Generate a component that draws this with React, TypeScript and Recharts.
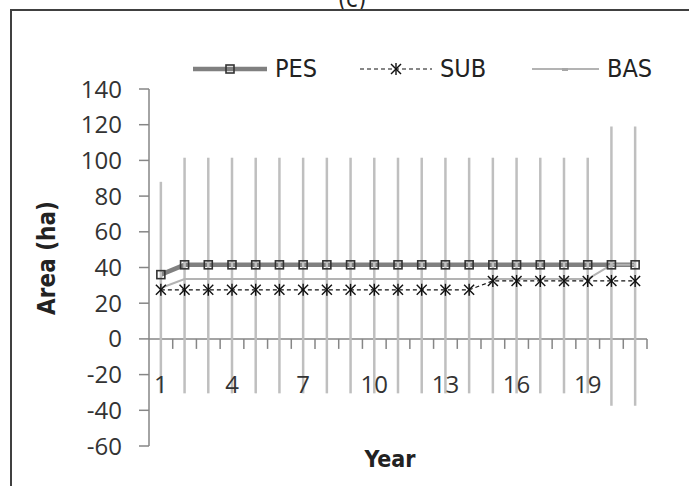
import React from 'react';
import { LineChart, Line, XAxis, YAxis, ErrorBar, ReferenceLine, Legend } from 'recharts';

const years = ['1', '2', '3', '4', '5', '6', '7', '8', '9', '10', '11', '12', '13', '14', '15', '16', '17', '18', '19', '20', '21'];
const pes = [36, 41.5, 41.5, 41.5, 41.5, 41.5, 41.5, 41.5, 41.5, 41.5, 41.5, 41.5, 41.5, 41.5, 41.5, 41.5, 41.5, 41.5, 41.5, 41.5, 41.5];
const sub = [27.5, 27.5, 27.5, 27.5, 27.5, 27.5, 27.5, 27.5, 27.5, 27.5, 27.5, 27.5, 27.5, 27.5, 32.5, 32.5, 32.5, 32.5, 32.5, 32.5, 32.5];
const bas = [28.5, 33.5, 33.5, 33.5, 33.5, 33.5, 33.5, 33.5, 33.5, 33.5, 33.5, 33.5, 33.5, 33.5, 33.5, 33.5, 33.5, 33.5, 33.5, 41.5, 41.5];
// vertical range drawn around BAS
const basHigh = [88, 101.5, 101.5, 101.5, 101.5, 101.5, 101.5, 101.5, 101.5, 101.5, 101.5, 101.5, 101.5, 101.5, 101.5, 101.5, 101.5, 101.5, 101.5, 119, 119];
const basLow = [-30.5, -30.5, -30.5, -30.5, -30.5, -30.5, -30.5, -30.5, -30.5, -30.5, -30.5, -30.5, -30.5, -30.5, -30.5, -30.5, -30.5, -30.5, -30.5, -37.5, -37.5];
const yTicks = [-60, -40, -20, 0, 20, 40, 60, 80, 100, 120, 140];

const rows = years.map((year, i) => ({
  year,
  pes: pes[i],
  sub: sub[i],
  bas: bas[i],
  basLow: basLow[i],
  basHigh: basHigh[i],
}));

const AXIS = '#868686';
const TICK_FONT = "'Open Sans', 'Noto Sans', sans-serif";
const NARROW = "'Liberation Sans Narrow', 'DejaVu Sans Condensed', 'Liberation Sans', sans-serif";
// half a category, so points sit in the middle of each slot like Excel
const HALF_SLOT = 498 / years.length / 2;

const SquareDot = (p: any) => {
  if (p.cx == null) return null;
  return <rect x={p.cx - 4} y={p.cy - 4} width={8} height={8} fill="none" stroke="#333" strokeWidth={1.6} />;
};

const StarDot = (p: any) => {
  if (p.cx == null) return null;
  const { cx, cy } = p;
  return (
    <g stroke="#111" strokeWidth={1.4}>
      <line x1={cx - 5} y1={cy - 5} x2={cx + 5} y2={cy + 5} />
      <line x1={cx - 5} y1={cy + 5} x2={cx + 5} y2={cy - 5} />
      <line x1={cx} y1={cy - 6} x2={cx} y2={cy + 6} />
    </g>
  );
};

// category axis drawn along y = 0, tick marks between categories
const ZeroAxis = (props: any) => {
  const { x1, y1, x2 } = props;
  const step = (x2 - x1) / years.length;
  return (
    <g stroke={AXIS} strokeWidth={1.5}>
      <line x1={x1} y1={y1} x2={x2} y2={y1} />
      {years.map((_, k) => (
        <line key={k} x1={x1 + (k + 1) * step} y1={y1} x2={x1 + (k + 1) * step} y2={y1 + 10} />
      ))}
    </g>
  );
};

const YearTick = (p: any) => (
  <text x={p.x} y={p.y - 53} textAnchor="middle" fill="#333" fontSize={24} fontFamily={TICK_FONT}>
    {p.payload.value}
  </text>
);

function LegendContent() {
  const text = { fontSize: 25, fontFamily: NARROW, color: '#222', marginLeft: 8, lineHeight: '25px' };
  return (
    <div style={{ display: 'flex', alignItems: 'center', paddingLeft: 193 }}>
      <div style={{ width: 167, display: 'flex', alignItems: 'center' }}>
        <svg width={74} height={20}>
          <line x1={0} y1={10} x2={74} y2={10} stroke="#808080" strokeWidth={4.5} />
          <rect x={33} y={6} width={8} height={8} fill="none" stroke="#333" strokeWidth={1.6} />
        </svg>
        <span style={text}>PES</span>
      </div>
      <div style={{ width: 172, display: 'flex', alignItems: 'center' }}>
        <svg width={72} height={20}>
          <line x1={0} y1={10} x2={72} y2={10} stroke="#111" strokeWidth={1.2} strokeDasharray="4 3" />
          <g stroke="#111" strokeWidth={1.4}>
            <line x1={31} y1={5} x2={41} y2={15} />
            <line x1={31} y1={15} x2={41} y2={5} />
            <line x1={36} y1={4} x2={36} y2={16} />
          </g>
        </svg>
        <span style={text}>SUB</span>
      </div>
      <div style={{ display: 'flex', alignItems: 'center' }}>
        <svg width={67} height={20}>
          <line x1={0} y1={10} x2={67} y2={10} stroke="#b3b3b3" strokeWidth={2} />
          <rect x={30} y={9} width={6} height={3} fill="#a6a6a6" />
        </svg>
        <span style={text}>BAS</span>
      </div>
    </div>
  );
}

export default function App() {
  return (
    <div style={{ position: 'fixed', left: 0, top: 0, width: 689, height: 486, overflow: 'hidden', background: '#fff' }}>
      <svg width={689} height={20} style={{ position: 'absolute', left: 0, top: 0 }}>
        <text x={352} y={7} textAnchor="middle" fontSize={24} fontFamily={NARROW} fill="#222">(c)</text>
      </svg>
      <div
        style={{
          position: 'absolute',
          left: 10,
          top: 9,
          width: 720,
          height: 520,
          border: '2px solid #404040',
        }}
      />
      <div style={{ position: 'absolute', left: 0, top: 0 }}>
        <LineChart width={689} height={486} data={rows} margin={{ top: 89, right: 42, bottom: 0, left: 0 }}>
          <ReferenceLine y={0} shape={ZeroAxis} />
          <XAxis
            dataKey="year"
            axisLine={false}
            tickLine={false}
            tickSize={0}
            tickMargin={0}
            interval={2}
            height={40}
            padding={{ left: HALF_SLOT, right: HALF_SLOT }}
            tick={YearTick}
            label={() => (
              <text x={390} y={467} textAnchor="middle" fontSize={23} fontWeight="bold" fontFamily={NARROW} fill="#222">
                Year
              </text>
            )}
          />
          <YAxis
            domain={[-60, 140]}
            ticks={yTicks}
            interval={0}
            width={149}
            axisLine={{ stroke: AXIS, strokeWidth: 1.5 }}
            tickLine={{ stroke: AXIS, strokeWidth: 1.5 }}
            tickSize={10}
            tickMargin={17}
            tick={{ fill: '#333', fontSize: 24, fontFamily: TICK_FONT }}
            label={() => (
              <text
                x={55}
                y={258}
                transform="rotate(-90 55 258)"
                textAnchor="middle"
                fontSize={24}
                fontWeight="bold"
                fontFamily={NARROW}
                fill="#222"
              >
                Area (ha)
              </text>
            )}
          />
          <Legend
            verticalAlign="middle"
            align="center"
            content={LegendContent}
            wrapperStyle={{ top: 56, left: 0, width: 689 }}
          />
          <Line dataKey="pes" stroke="#808080" strokeWidth={4.5} dot={SquareDot} isAnimationActive={false} />
          <Line
            dataKey="sub"
            stroke="#111"
            strokeWidth={1.2}
            strokeDasharray="4 3"
            dot={StarDot}
            isAnimationActive={false}
          />
          <Line dataKey="bas" stroke="#b3b3b3" strokeWidth={2} dot={false} isAnimationActive={false}>
            <ErrorBar
              dataKey={(d: any) => [d.bas - d.basLow, d.basHigh - d.bas]}
              direction="y"
              width={0}
              stroke="#bfbfbf"
              strokeWidth={2.5}
              isAnimationActive={false}
            />
          </Line>
        </LineChart>
      </div>
    </div>
  );
}
